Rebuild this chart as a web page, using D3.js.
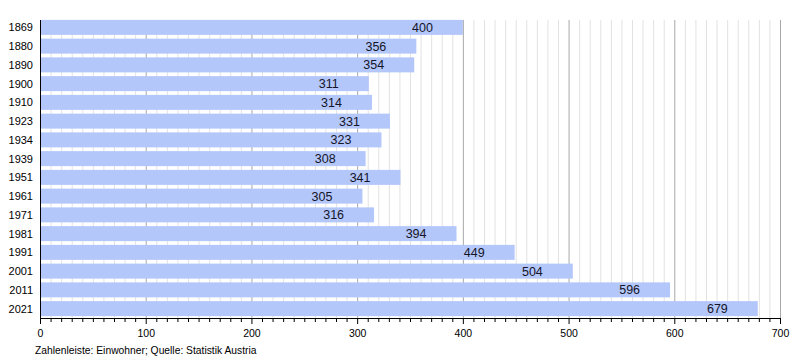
<!DOCTYPE html>
<html><head><meta charset="utf-8">
<script src="https://cdn.jsdelivr.net/npm/d3@7"></script>
<style>body{margin:0;background:#fff}svg{display:block;font-family:"Liberation Sans",Arial,sans-serif}</style>
</head><body><svg id="c" width="800" height="360"></svg>
<script>
const years = ["1869","1880","1890","1900","1910","1923","1934","1939","1951","1961","1971","1981","1991","2001","2011","2021"];
const population = [400,356,354,311,314,331,323,308,341,305,316,394,449,504,596,679];
const majorTicks = [0,100,200,300,400,500,600,700];
const footer = "Zahlenleiste: Einwohner; Quelle: Statistik Austria";

(function(){
const svg = d3.select("#c");
const mLeft = 40, mRight = 780, mTop = 18, mBottom = 318;
const x = d3.scaleLinear().domain([0,700]).range([mLeft,mRight]);
const y = d3.scaleBand().domain(years).range([mTop,mBottom]).paddingInner(0.2).paddingOuter(0.1);

const minor = d3.range(10,701,10).filter(v => v % 100 !== 0);
svg.append("g").selectAll("line").data(minor).join("line")
  .attr("x1", d=>x(d)+0.5).attr("x2", d=>x(d)+0.5).attr("y1", 20).attr("y2", mBottom)
  .attr("stroke", "#e2e2e2").attr("stroke-width", 1);
svg.append("g").selectAll("line").data(majorTicks.slice(1)).join("line")
  .attr("x1", d=>x(d)+0.5).attr("x2", d=>x(d)+0.5).attr("y1", 20).attr("y2", mBottom)
  .attr("stroke", "#a8a8a8").attr("stroke-width", 1);

svg.append("g").selectAll("rect").data(population).join("rect")
  .attr("x", x(0)).attr("y", (d,i)=>y(years[i]))
  .attr("width", d=>x(d)-x(0)).attr("height", y.bandwidth())
  .attr("fill", "#b3c7fb");

svg.append("g").selectAll("text").data(population).join("text")
  .attr("x", d=>x(d)-30).attr("y", (d,i)=>y(years[i])+y.bandwidth()/2)
  .attr("dy", "0.36em").attr("text-anchor", "end")
  .attr("font-size", 12.5).attr("fill", "#151528").text(d=>d);

svg.append("g").selectAll("text").data(years).join("text")
  .attr("x", 33).attr("y", d=>y(d)+y.bandwidth()/2).attr("dy","0.36em")
  .attr("text-anchor","end").attr("font-size",11).attr("fill","#000").text(d=>d);

svg.append("line").attr("x1",mLeft+0.5).attr("x2",mLeft+0.5).attr("y1",20).attr("y2",mBottom+1).attr("stroke","#000");
const xAxis = d3.axisBottom(x).tickValues(majorTicks).tickSize(6).tickFormat(d3.format("d"));
const g = svg.append("g").attr("transform",`translate(0,${mBottom})`).call(xAxis);
g.select(".domain").attr("d", `M${mLeft},0.5H${mRight+1}`).attr("stroke","#000");
g.selectAll("text").attr("font-size",10.5).attr("font-family","Liberation Sans, Arial, sans-serif").attr("fill","#000").attr("y",12);
svg.append("g").selectAll("line").data(minor).join("line")
  .attr("x1", d=>x(d)+0.5).attr("x2", d=>x(d)+0.5).attr("y1", mBottom).attr("y2", mBottom+4)
  .attr("stroke","#000");

svg.append("text").attr("x",35).attr("y",354).attr("font-size",10.3).attr("fill","#000").text(footer);
})();
</script></body></html>
